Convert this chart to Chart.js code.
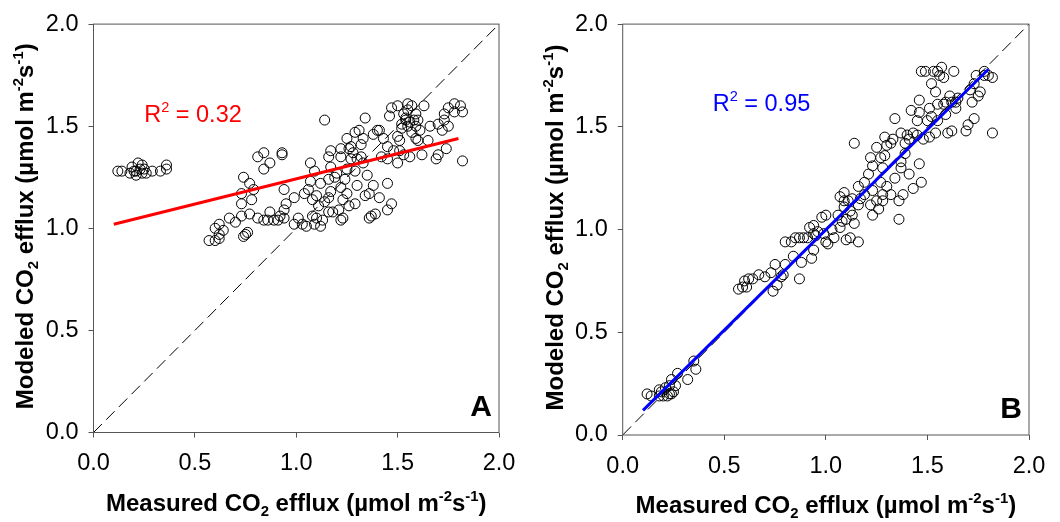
<!DOCTYPE html>
<html>
<head>
<meta charset="utf-8">
<script src="https://cdn.jsdelivr.net/npm/chart.js@4"></script>
<style>
  body { margin: 0; background: #fff; }
  canvas { position: absolute; top: 0; }
</style>
</head>
<body>
<canvas id="panelA" width="530" height="522" style="left:0"></canvas>
<canvas id="panelB" width="530" height="522" style="left:530px"></canvas>
<script>
// Panel A (measured vs modeled, first model)
const measuredA = [
  0.12, 0.14, 0.19, 0.21, 0.22, 0.23, 0.24, 0.21, 0.25, 0.26, 0.29, 0.33, 0.36, 0.36, 0.18, 0.20, 0.24,
  0.57, 0.60, 0.62, 0.60, 0.62, 0.64, 0.62, 0.67, 0.70, 0.74, 0.76, 0.75, 0.73, 0.73, 0.73, 0.74, 0.77, 0.78, 0.77, 0.79,
  0.81, 0.84, 0.87, 0.84, 0.81, 0.84, 0.86, 0.89, 0.91, 0.87, 0.92, 0.93, 0.93, 0.94, 0.95, 0.94, 0.94, 0.99, 0.99,
  1.01, 1.04, 1.03, 1.05, 1.08, 1.07, 1.09, 1.07, 1.06, 1.08, 1.10, 1.11, 1.09, 1.12, 1.13, 1.12, 1.14, 1.16, 1.17,
  1.17, 1.16, 1.17, 1.16, 1.16, 1.18, 1.19, 1.21, 1.22, 1.22, 1.22, 1.23, 1.23, 1.22, 1.24, 1.25, 1.25, 1.26, 1.26,
  1.27, 1.29, 1.29, 1.30, 1.29, 1.31, 1.32, 1.33, 1.34, 1.32, 1.33, 1.35, 1.34, 1.36, 1.37, 1.39, 1.36, 1.38, 1.41,
  1.38, 1.40, 1.41, 1.42, 1.43, 1.45, 1.45, 1.47, 1.45, 1.45, 1.46, 1.47, 1.50, 1.50, 1.50, 1.51, 1.51, 1.52, 1.53,
  1.54, 1.55, 1.55, 1.57, 1.54, 1.56, 1.58, 1.59, 1.59, 1.60, 1.61, 1.59, 1.56, 1.62, 1.63, 1.60, 1.65, 1.66, 1.69,
  1.70, 1.70, 1.72, 1.73, 1.73, 1.74, 1.75, 1.75, 1.78, 1.78, 1.81, 1.82, 1.82,
  1.27, 1.30, 1.25, 1.52, 1.55, 1.57, 1.28, 1.20, 1.48, 1.53, 1.14, 1.10
];
const modeledA = [
  1.28, 1.28, 1.30, 1.28, 1.32, 1.29, 1.27, 1.26, 1.29, 1.27, 1.28, 1.28, 1.31, 1.29, 1.27, 1.28, 1.31,
  0.94, 0.94, 0.95, 1.00, 1.02, 0.99, 0.97, 1.05, 1.03, 0.96, 0.98, 0.97, 1.06, 1.12, 1.17, 1.25, 1.22, 1.14, 1.07, 1.19,
  1.35, 1.37, 1.32, 1.29, 1.05, 1.04, 1.04, 1.04, 1.04, 1.08, 1.06, 1.37, 1.36, 1.19, 1.12, 1.09, 1.05, 1.15, 1.02,
  1.05, 1.17, 1.02, 1.01, 1.06, 1.32, 1.28, 1.23, 1.19, 1.14, 1.16, 1.11, 1.02, 1.01, 1.04, 1.22, 1.53, 1.35, 1.38,
  1.30, 1.24, 1.18, 1.15, 1.08, 1.08, 1.25, 1.09, 1.39, 1.35, 1.20, 1.14, 1.05, 1.04, 1.24, 1.29, 1.17, 1.11, 1.39,
  1.40, 1.12, 1.28, 1.21, 1.47, 1.48, 1.41, 1.44, 1.54, 1.35, 1.32, 1.26, 1.16, 1.05, 1.06, 1.07, 1.17, 1.21, 1.15,
  1.46, 1.48, 1.48, 1.35, 1.44, 1.09, 1.22, 1.12, 1.34, 1.40, 1.55, 1.59, 1.60, 1.45, 1.32, 1.43, 1.38, 1.51, 1.56,
  1.54, 1.58, 1.61, 1.60, 1.53, 1.52, 1.53, 1.50, 1.56, 1.53, 1.48, 1.44, 1.35, 1.36, 1.60, 1.43, 1.43, 1.50, 1.34,
  1.51, 1.36, 1.48, 1.56, 1.53, 1.39, 1.50, 1.59, 1.57, 1.61, 1.60, 1.57, 1.33,
  1.34, 1.34, 1.44, 1.49, 1.50, 1.47, 1.37, 1.27, 1.38, 1.36, 1.13, 1.05
];

// Panel B (measured vs modeled, second model)
const measuredB = [
  0.12, 0.14, 0.18, 0.19, 0.20, 0.21, 0.23, 0.23, 0.24, 0.24, 0.22, 0.25, 0.26, 0.27, 0.32, 0.36, 0.35, 0.18,
  0.57, 0.59, 0.61, 0.60, 0.62, 0.64, 0.67, 0.70, 0.73, 0.74, 0.76, 0.75, 0.78, 0.79, 0.80, 0.80, 0.83, 0.85, 0.87,
  0.88, 0.87, 0.89, 0.84, 0.91, 0.92, 0.94, 0.94, 0.95, 0.96, 0.93, 0.94, 0.98, 1.00, 1.00, 1.01, 0.99, 1.03, 1.04,
  1.06, 1.07, 1.08, 1.07, 1.09, 1.09, 1.10, 1.12, 1.10, 1.12, 1.13, 1.14, 1.14, 1.16, 1.17, 1.16, 1.19, 1.19, 1.16,
  1.21, 1.22, 1.22, 1.23, 1.23, 1.23, 1.25, 1.25, 1.26, 1.27, 1.27, 1.28, 1.28, 1.28, 1.29, 1.29, 1.30, 1.30, 1.32,
  1.33, 1.32, 1.34, 1.34, 1.36, 1.36, 1.37, 1.37, 1.38, 1.39, 1.40, 1.41, 1.41, 1.42, 1.43, 1.45, 1.46, 1.46, 1.45,
  1.46, 1.47, 1.47, 1.48, 1.49, 1.50, 1.51, 1.51, 1.52, 1.53, 1.54, 1.55, 1.55, 1.56, 1.57, 1.58, 1.58, 1.59, 1.59,
  1.60, 1.61, 1.62, 1.63, 1.64, 1.64, 1.65, 1.69, 1.70, 1.71, 1.72, 1.73, 1.73, 1.74, 1.75, 1.76, 1.78, 1.78, 1.80,
  1.82, 1.82,
  1.37, 1.39, 1.54, 1.09, 1.11, 1.13, 1.55, 1.52, 1.62, 1.43
];
const modeledB = [
  0.20, 0.19, 0.19, 0.21, 0.19, 0.23, 0.20, 0.24, 0.27, 0.20, 0.19, 0.21, 0.24, 0.30, 0.27, 0.32, 0.36, 0.22,
  0.71, 0.72, 0.72, 0.75, 0.76, 0.76, 0.78, 0.77, 0.79, 0.70, 0.73, 0.83, 0.77, 0.78, 0.83, 0.94, 0.94, 0.96, 0.96,
  0.84, 0.76, 0.96, 0.87, 0.96, 1.01, 1.02, 0.98, 0.97, 0.99, 0.86, 0.90, 1.06, 1.07, 0.94, 0.93, 0.98, 1.00, 0.96,
  1.07, 1.16, 1.04, 1.01, 1.14, 1.18, 0.95, 0.96, 1.05, 1.09, 1.07, 1.03, 1.42, 0.94, 1.15, 1.21, 1.23, 1.17, 1.12,
  1.27, 1.35, 1.12, 1.07, 1.31, 1.19, 1.40, 1.14, 1.10, 1.23, 1.35, 1.17, 1.14, 1.30, 1.45, 1.36, 1.21, 1.41, 1.42,
  1.44, 1.17, 1.25, 1.54, 1.14, 1.05, 1.47, 1.33, 1.17, 1.42, 1.46, 1.27, 1.44, 1.58, 1.20, 1.46, 1.63, 1.57, 1.53,
  1.32, 1.23, 1.77, 1.44, 1.77, 1.53, 1.59, 1.45, 1.71, 1.77, 1.67, 1.77, 1.61, 1.75, 1.79, 1.74, 1.61, 1.56, 1.62,
  1.47, 1.65, 1.48, 1.77, 1.62, 1.59, 1.64, 1.48, 1.51, 1.68, 1.62, 1.71, 1.54, 1.75, 1.65, 1.67, 1.75, 1.77, 1.75,
  1.74, 1.47,
  1.30, 1.37, 1.47, 1.11, 1.14, 1.15, 1.53, 1.55, 1.62, 1.47
];

// regression lines (end points) and 1:1 line
const fitA = { x: [0.1, 1.8], y: [1.02, 1.44] };
const fitB = { x: [0.1, 1.8], y: [0.12, 1.78] };
const oneToOne = { x: [0, 2], y: [0, 2] };
const tickValues = [0, 0.5, 1.0, 1.5, 2.0];

const FAM = '"Liberation Sans", Arial, Helvetica, sans-serif';

function pairs(xs, ys) {
  return xs.map((x, i) => ({ x: x, y: ys[i] }));
}

// draws text with sub/superscripts
function richText(ctx, parts, x, y, align, size, weight, color) {
  const font = s => `${weight} ${s}px ${FAM}`;
  let total = 0;
  const items = parts.map(([t, k]) => {
    const s = k ? size * 0.62 : size;
    ctx.font = font(s);
    const w = ctx.measureText(t).width;
    total += w;
    return { t, k, s, w };
  });
  let cx = align === 'center' ? x - total / 2 : x;
  ctx.fillStyle = color;
  ctx.textAlign = 'left';
  ctx.textBaseline = 'alphabetic';
  items.forEach(it => {
    ctx.font = font(it.s);
    const dy = it.k === 'sub' ? size * 0.2 : it.k === 'sup' ? -size * 0.42 : 0;
    ctx.fillText(it.t, cx, y + dy);
    cx += it.w;
  });
}

const xTitle = [['Measured CO'], ['2', 'sub'], [' efflux (\u00b5mol m'], ['-2', 'sup'], ['s'], ['-1', 'sup'], [')']];
const yTitle = [['Modeled CO'], ['2', 'sub'], [' efflux (\u00b5mol m'], ['-2', 'sup'], ['s'], ['-1', 'sup'], [')']];

const decorations = {
  id: 'decorations',
  afterDraw(chart, args, o) {
    const { ctx, chartArea: a, scales: { x, y } } = chart;
    ctx.save();
    ctx.strokeStyle = '#555';
    ctx.lineWidth = 1;
    ctx.strokeRect(a.left, a.top, a.right - a.left, a.bottom - a.top);

    // R² label
    richText(ctx, [['R'], ['2', 'sup'], [' = ' + o.r2]],
      x.getPixelForValue(o.r2At[0]), y.getPixelForValue(o.r2At[1]), 'left', 23.5, 'normal', o.color);

    // panel letter
    ctx.font = `bold 30px ${FAM}`;
    ctx.fillStyle = '#000';
    ctx.textAlign = 'right';
    ctx.textBaseline = 'alphabetic';
    ctx.fillText(o.letter, a.right - 7, a.bottom - 17);

    // axis titles
    richText(ctx, xTitle, (a.left + a.right) / 2, o.xTitleY, 'center', 24, 'bold', '#000');
    ctx.translate(o.yTitleX, (a.top + a.bottom) / 2 - 2);
    ctx.rotate(-Math.PI / 2);
    richText(ctx, yTitle, 0, 0, 'center', 24, 'bold', '#000');
    ctx.restore();
  }
};

function axis(fixedSize, horizontal, pad) {
  return {
    type: 'linear',
    min: 0,
    max: 2,
    afterBuildTicks: s => { s.ticks = tickValues.map(v => ({ value: v })); },
    afterFit: s => { if (horizontal) s.height = fixedSize; else s.width = fixedSize; },
    grid: { drawOnChartArea: false, drawTicks: true, tickLength: 5, color: '#555' },
    border: { display: false },
    ticks: {
      padding: pad,
      color: '#000',
      font: { family: FAM, size: 23.5 },
      callback: v => v.toFixed(1)
    }
  };
}

function makePanel(id, pts, fit, color, opts) {
  new Chart(document.getElementById(id), {
    type: 'scatter',
    data: {
      datasets: [
        {
          type: 'line',
          data: pairs(fit.x, fit.y),
          borderColor: color,
          borderWidth: 3,
          pointRadius: 0,
          order: 0
        },
        {
          data: pts,
          pointStyle: 'circle',
          pointRadius: 5,
          borderColor: '#000',
          borderWidth: 1,
          backgroundColor: 'rgba(0,0,0,0)',
          order: 1
        },
        {
          type: 'line',
          data: pairs(oneToOne.x, oneToOne.y),
          borderColor: '#000',
          borderWidth: 1,
          borderDash: [12, 6],
          pointRadius: 0,
          order: 2
        }
      ]
    },
    options: {
      responsive: false,
      devicePixelRatio: 1,
      animation: false,
      layout: { padding: { left: 0, right: 31, top: opts.top, bottom: 0 } },
      scales: {
        x: axis(opts.xh, true, 12),
        y: axis(opts.yw, false, 10)
      },
      plugins: {
        legend: { display: false },
        tooltip: { enabled: false },
        decorations: {
          r2: opts.r2, r2At: opts.r2At, color: color, letter: opts.letter,
          xTitleY: opts.xTitleY, yTitleX: opts.yTitleX
        }
      }
    },
    plugins: [decorations]
  });
}

makePanel('panelA', pairs(measuredA, modeledA), fitA, '#ff0000',
  { top: 18.5, xh: 89.5, yw: 93.5, r2: '0.32', r2At: [0.25, 1.523], letter: 'A', xTitleY: 511, yTitleX: 33 });
makePanel('panelB', pairs(measuredB, modeledB), fitB, '#0000ff',
  { top: 21.7, xh: 87, yw: 92.7, r2: '0.95', r2At: [0.443, 1.578], letter: 'B', xTitleY: 513, yTitleX: 33 });
</script>
</body>
</html>
